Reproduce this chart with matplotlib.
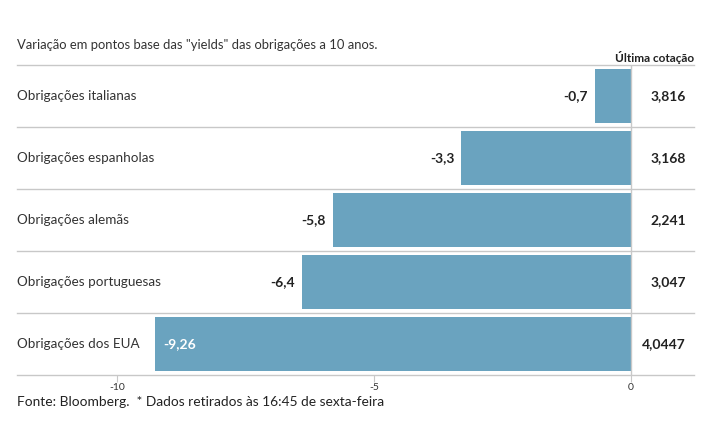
import numpy as np
import matplotlib.pyplot as plt

plt.rcParams['font.family'] = ['Lato', 'DejaVu Sans']

# data
categories = ["Obrigações italianas", "Obrigações espanholas", "Obrigações alemãs",
              "Obrigações portuguesas", "Obrigações dos EUA"]
variation = [-0.7, -3.3, -5.8, -6.4, -9.26]
var_labels = ["-0,7", "-3,3", "-5,8", "-6,4", "-9,26"]
last_quote = ["3,816", "3,168", "2,241", "3,047", "4,0447"]
tick_vals = [-10, -5, 0]

bar_color = '#6aa3bf'
grid_color = '#c8c8c8'

fig = plt.figure(figsize=(7.15, 4.45), dpi=100)
ax = fig.add_axes([17 / 715, 1 - 375 / 445, 677 / 715, 310 / 445])

y = np.arange(len(categories))
ax.barh(y, variation, height=0.88, color=bar_color, zorder=2)

x_left, x_right = -11.95, 1.23
ax.set_xlim(x_left, x_right)
ax.set_ylim(len(categories) - 0.5, -0.5)

# row separators
for b in np.arange(-0.5, len(categories), 1.0):
    ax.axhline(b, color=grid_color, lw=1, zorder=1, clip_on=False)
ax.axvline(0, color=grid_color, lw=1, zorder=3)

for i, (cat, v, lab, q) in enumerate(zip(categories, variation, var_labels, last_quote)):
    ax.text(x_left, i, cat, ha='left', va='center', fontsize=9.7, color='#333333')
    if v < -8:
        ax.annotate(lab, (v, i), xytext=(6, 0), textcoords='offset points',
                    ha='left', va='center', fontsize=10, fontweight='bold', color='white')
    else:
        ax.annotate(lab, (v, i), xytext=(-5, 0), textcoords='offset points',
                    ha='right', va='center', fontsize=10, fontweight='bold', color='#222222')
    ax.text(1.07, i, q, ha='right', va='center', fontsize=10, fontweight='bold', color='#222222')

for s in ax.spines.values():
    s.set_visible(False)
ax.set_yticks([])
ax.set_xticks(tick_vals)
ax.set_xticklabels([str(t) for t in tick_vals])
ax.tick_params(axis='x', length=5, color=grid_color, labelsize=7.5, labelcolor='#333333', pad=1)

fig.text(17 / 715, 1 - 45 / 445, 'Variação em pontos base das "yields" das obrigações a 10 anos.',
         ha='left', va='center', fontsize=9.4, color='#333333')
fig.text(694 / 715, 1 - 57 / 445, 'Última cotação', ha='right', va='center',
         fontsize=8.5, fontweight='bold', color='#222222')
fig.text(17 / 715, 1 - 402 / 445, 'Fonte: Bloomberg.  * Dados retirados às 16:45 de sexta-feira',
         ha='left', va='center', fontsize=9.9, color='#222222')

fig.savefig('out.png', dpi=100)
